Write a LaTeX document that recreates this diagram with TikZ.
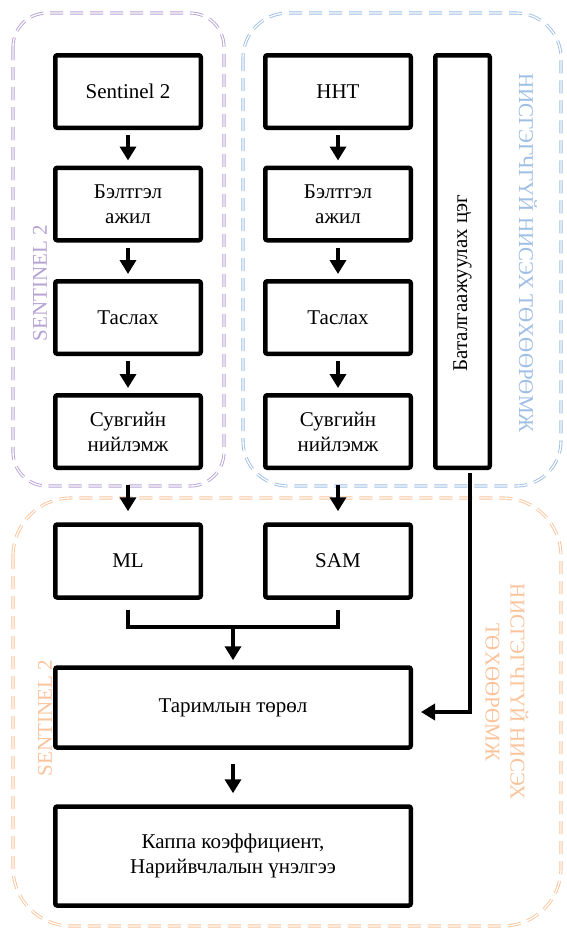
\documentclass[tikz,border=0pt]{standalone}
\usepackage{fontspec}
\setmainfont{Liberation Serif}
\usetikzlibrary{positioning}
\usetikzlibrary{arrows.meta}

\definecolor{frameA}{RGB}{182,162,212}
\definecolor{frameB}{RGB}{158,190,228}
\definecolor{frameC}{RGB}{250,195,155}

\begin{document}
\begin{tikzpicture}[x=1pt,y=1pt,
	font=\fontsize{21}{25}\selectfont,
	box/.style={draw, line width=4.5pt, rounded corners=2pt, minimum width=145.5pt, minimum height=72.5pt, align=center, inner sep=2pt},
	frame/.style={line width=0.9pt, double=white, double distance=1.3pt, dash pattern=on 13pt off 7pt},
	flow/.style={line width=4pt, -{Triangle[width=16pt,length=14pt]}},
	tag/.style={font=\fontsize{21}{25}\selectfont, align=center, inner sep=0pt}]
		\useasboundingbox (0,0) rectangle (566,-930);
		% dashed groups
		\draw[frame, draw=frameA, rounded corners=34pt] (13,-13) rectangle (224,-486);
		\draw[frame, draw=frameB, rounded corners=45pt] (243,-13) rectangle (561,-486);
		\draw[frame, draw=frameC, rounded corners=58pt] (13,-498) rectangle (561,-926);
		% group labels
		\node[tag, text=frameA, rotate=90] (tagA) at (40,-283) {SENTINEL 2};
		\node[tag, text=frameB, rotate=-90] (tagB) at (528,-253) {НИСГЭГЧГҮЙ НИСЭХ ТӨХӨӨРӨМЖ};
		\node[tag, text=frameC, rotate=90] (tagC) at (45,-718) {SENTINEL 2};
		\node[tag, text=frameC, rotate=-90] (tagD) at (507,-692) {НИСГЭГЧГҮЙ НИСЭХ\\ТӨХӨӨРӨМЖ};
		% two processing columns
		\foreach \col/\x/\src in {A/128/Sentinel 2, B/338/ННТ} {
			\node[box] (src\col) at (\x,-91.5) {\src};
			\node[box] (prep\col) at (\x,-204) {Бэлтгэл\\ажил};
			\node[box] (clip\col) at (\x,-317.5) {Таслах};
			\node[box] (stack\col) at (\x,-431.5) {Сувгийн\\нийлэмж};
			\draw[flow, shorten <=5pt, shorten >=5pt] (src\col) -- (prep\col);
			\draw[flow, shorten <=5pt, shorten >=5pt] (prep\col) -- (clip\col);
			\draw[flow, shorten <=5pt, shorten >=5pt] (clip\col) -- (stack\col);
		}
		% validation points
		\node[box, minimum width=54.5pt, minimum height=412.5pt] (valid) at (462.5,-261.5) {};
		\node[rotate=90] (validtxt) at (462.5,-283) {Баталгаажуулах цэг};
		% classification
		\node[box, minimum height=73pt] (ml) at (128,-561) {ML};
		\node[box, minimum height=73pt] (sam) at (338,-561) {SAM};
		\node[box, minimum width=355.5pt, minimum height=80pt] (crop) at (233,-707.5) {Таримлын төрөл};
		\node[box, minimum width=355.5pt, minimum height=99pt] (kappa) at (233,-856) {Каппа коэффициент,\\Нарийвчлалын үнэлгээ};
		\draw[flow, shorten <=15pt, shorten >=11pt] (stackA) -- (ml);
		\draw[flow, shorten <=15pt, shorten >=11pt] (stackB) -- (sam);
		\coordinate (join) at (233,-627);
		\draw[line width=4pt] ([yshift=-10pt]ml.south) |- (join) -| ([yshift=-10pt]sam.south);
		\draw[flow, shorten >=5pt] (join) -- (crop.north);
		\draw[flow, shorten <=3pt, shorten >=8pt] ([xshift=7.5pt]valid.south) |- ([yshift=-4.5pt]crop.east);
		\draw[flow, shorten <=14pt, shorten >=11pt] (crop) -- (kappa);
\end{tikzpicture}
\end{document}
